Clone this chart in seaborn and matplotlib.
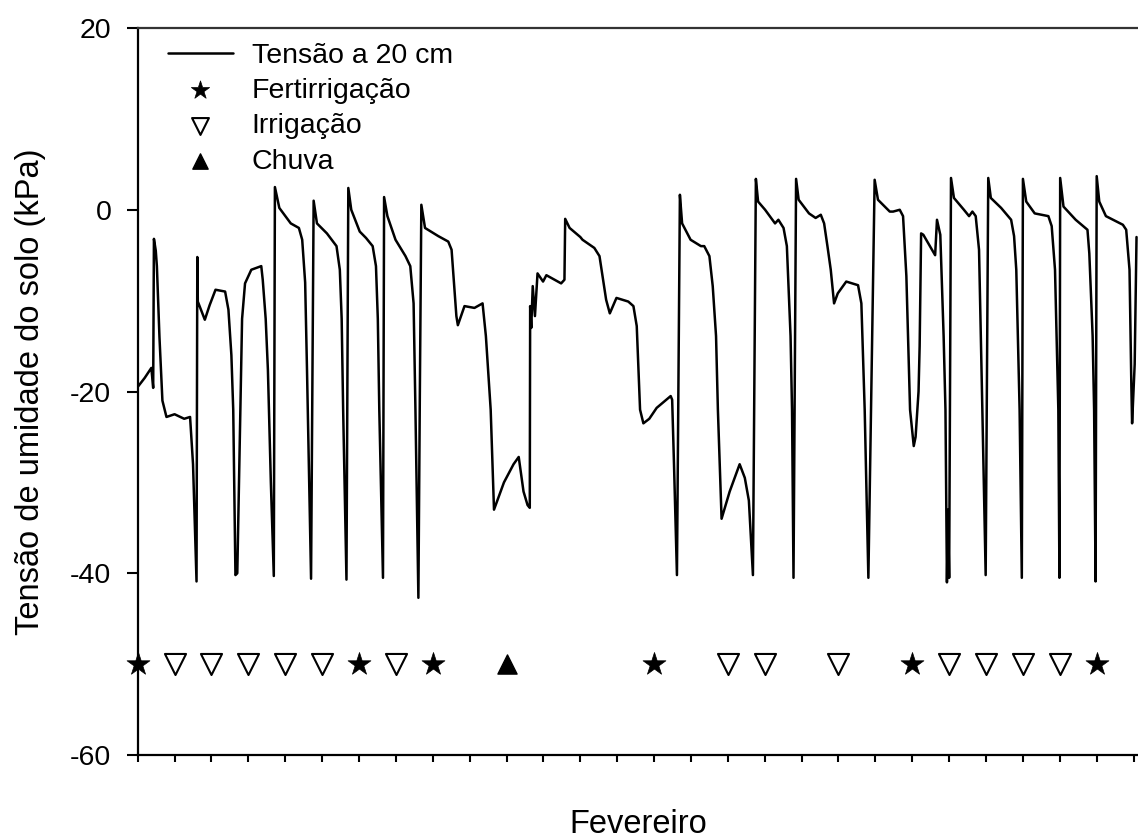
import numpy as np
import pandas as pd
import seaborn as sns
import matplotlib
matplotlib.use("Agg")
import matplotlib.pyplot as plt

# dia de fevereiro (0 = inicio do mes) e tensao a 20 cm (kPa)
dia = [0.00, 0.19, 0.37, 0.42, 0.44, 0.49, 0.52, 0.59, 0.67, 0.78, 1.00, 1.26, 1.42, 1.50, 1.595,
       1.616, 1.63, 1.82, 1.95, 2.11, 2.37, 2.46, 2.54, 2.59, 2.65,
       2.70, 2.77, 2.83, 2.91, 3.08, 3.35, 3.39, 3.47, 3.53, 3.61, 3.69,
       3.72, 3.84, 4.15, 4.37, 4.46, 4.54, 4.59, 4.65, 4.70,
       4.77, 4.86, 5.13, 5.39, 5.48, 5.53, 5.57, 5.66,
       5.71, 5.79, 6.02, 6.19, 6.37, 6.46, 6.51, 6.55, 6.65,
       6.68, 6.77, 6.99, 7.26, 7.39, 7.48, 7.53, 7.61,
       7.65, 7.69, 7.79, 8.15, 8.42, 8.51, 8.64, 8.68, 8.86, 9.13, 9.35, 9.44, 9.57,
       9.66, 9.93, 10.19, 10.33, 10.46, 10.57, 10.63, 10.64, 10.67, 10.71, 10.77, 10.84,
       10.99, 11.08, 11.48, 11.57, 11.59, 11.71, 12.00,
       12.06, 12.38, 12.52, 12.70, 12.80, 12.98, 13.30, 13.44, 13.53, 13.62, 13.71,
       13.87, 14.07, 14.45, 14.49, 14.54, 14.62,
       14.70, 14.76, 14.99, 15.27, 15.36, 15.50, 15.59, 15.68, 15.73, 15.83, 16.05,
       16.32, 16.46, 16.57, 16.68,
       16.76, 16.82, 17.01, 17.28, 17.37, 17.51, 17.60, 17.70, 17.74, 17.78,
       17.85, 17.92, 18.20, 18.38, 18.52, 18.61, 18.70, 18.79, 18.88, 18.98, 19.21,
       19.53, 19.62, 19.71, 19.81,
       19.98, 20.07, 20.39, 20.48, 20.66, 20.75, 20.84, 20.94, 21.04, 21.09, 21.17,
       21.20, 21.24, 21.30, 21.62, 21.67, 21.76, 21.85, 21.90, 21.94, 21.97, 22.00,
       22.05, 22.13, 22.40, 22.54, 22.63, 22.72, 22.81, 22.90, 22.99,
       23.06, 23.13, 23.41, 23.68, 23.76, 23.82, 23.91, 23.97,
       24.00, 24.09, 24.32, 24.69, 24.78, 24.87, 24.96, 24.99,
       25.01, 25.10, 25.43, 25.75, 25.80, 25.89, 25.93, 25.97,
       26.00, 26.07, 26.25, 26.71, 26.80, 26.89, 26.94, 26.96, 27.03, 27.08]

tensao = [-19.5, -18.5, -17.4, -19.6, -3.2, -4.5, -6.2, -14.0, -21.0, -22.8, -22.5, -23.0, -22.8, -28.0, -40.9,
          -5.2, -10.1, -12.1, -10.5, -8.8, -9.0, -11.0, -16.0, -22.0, -40.2,
          -40.0, -25.0, -12.0, -8.1, -6.6, -6.2, -7.7, -12.0, -17.6, -30.0, -40.3,
          2.5, 0.2, -1.5, -2.0, -3.3, -8.0, -17.6, -30.0, -40.6,
          1.0, -1.5, -2.6, -4.0, -6.6, -12.0, -22.0, -40.7,
          2.4, 0.0, -2.4, -3.1, -4.0, -6.2, -12.0, -22.0, -40.5,
          1.4, -0.7, -3.3, -5.1, -6.2, -10.3, -22.0, -42.7,
          -20.0, 0.55, -2.0, -2.9, -3.5, -4.4, -11.7, -12.7, -10.6, -10.8, -10.3, -13.9, -22.0,
          -33.0, -30.0, -28.0, -27.2, -31.0, -32.5, -32.8, -10.6, -13.0, -8.4, -11.7, -7.0,
          -7.9, -7.2, -8.1, -7.7, -1.0, -2.0, -3.0,
          -3.3, -4.2, -5.1, -9.9, -11.4, -9.7, -10.1, -10.6, -12.8, -22.0, -23.5,
          -23.0, -21.8, -20.5, -20.9, -28.0, -40.2,
          1.65, -1.5, -3.3, -4.0, -4.0, -5.1, -8.4, -13.9, -22.0, -34.0, -31.0,
          -28.0, -29.5, -32.0, -40.2,
          3.4, 0.9, 0.0, -1.5, -1.1, -2.0, -4.0, -13.9, -22.0, -40.5,
          3.4, 1.1, -0.4, -0.9, -0.55, -1.5, -4.0, -6.6, -10.3, -9.2, -7.9,
          -8.3, -10.3, -22.0, -40.5,
          3.3, 1.1, -0.2, -0.2, 0.0, -0.7, -7.3, -22.0, -26.0, -25.0, -20.0,
          -15.0, -2.6, -2.75, -5.0, -1.1, -2.75, -13.9, -22.0, -41.0, -33.0, -40.5,
          3.5, 1.3, 0.0, -0.7, -0.2, -0.7, -4.4, -22.0, -40.2,
          3.5, 1.3, 0.2, -1.1, -2.9, -6.6, -22.0, -40.5,
          3.4, 0.9, -0.4, -0.7, -1.8, -6.6, -22.0, -40.5,
          3.5, 0.35, -1.1, -2.2, -4.8, -13.9, -22.0, -40.9,
          3.7, 0.9, -0.7, -1.65, -2.2, -6.6, -19.4, -23.5, -17.0, -3.0]

# eventos de manejo
dias_fertirrigacao = [0, 6, 8, 14, 21, 26]
dias_irrigacao = [1, 2, 3, 4, 5, 7, 16, 17, 19, 22, 23, 24, 25]
dias_chuva = [10]
nivel_eventos = -50

df = pd.DataFrame({"dia": dia, "tensao": tensao})

sns.set_style("ticks")
plt.rcParams["font.family"] = ["Liberation Sans", "DejaVu Sans"]
plt.rcParams["axes.unicode_minus"] = False
plt.rcParams["text.color"] = "black"
plt.rcParams["axes.labelcolor"] = "black"

fig = plt.figure(figsize=(11.38, 8.39), dpi=100)
ax = fig.add_axes([0.121, 0.1001, 0.879, 0.8665])

sns.lineplot(data=df, x="dia", y="tensao", color="black", linewidth=1.8,
             label="Tensão a 20 cm", ax=ax, sort=False, estimator=None)

sns.scatterplot(x=dias_fertirrigacao, y=[nivel_eventos] * len(dias_fertirrigacao),
                marker="*", s=300, color="black", edgecolor="black", linewidth=0.5,
                label="Fertirrigação", ax=ax, zorder=3, clip_on=False)
sns.scatterplot(x=dias_irrigacao, y=[nivel_eventos] * len(dias_irrigacao),
                marker="v", s=230, facecolor="white", edgecolor="black", linewidth=1.5,
                label="Irrigação", ax=ax, zorder=3, clip_on=False)
sns.scatterplot(x=dias_chuva, y=[nivel_eventos] * len(dias_chuva),
                marker="^", s=190, color="black", edgecolor="black", linewidth=1.0,
                label="Chuva", ax=ax, zorder=3, clip_on=False)

ax.set_xlim(0, 27.12)
ax.set_ylim(-60, 20)
ax.set_yticks([-60, -40, -20, 0, 20])
ax.set_xticks(range(0, 28))
ax.set_xticklabels([])

ax.tick_params(axis="y", direction="out", length=8, width=1.5, pad=11,
               labelsize=20.5, colors="black")
ax.tick_params(axis="x", direction="out", length=5, width=1.5, colors="black")

for side in ["left", "bottom", "top"]:
    ax.spines[side].set_linewidth(1.6)
    ax.spines[side].set_color("black")
ax.spines["top"].set_color("#333333")
ax.spines["right"].set_visible(False)

ax.set_xlabel("Fevereiro", fontsize=23.5)
ax.set_ylabel("Tensão de umidade do solo (kPa)", fontsize=23.5)
ax.xaxis.set_label_coords(0.5, -0.074)
ax.yaxis.set_label_coords(-0.092, 0.5)

leg = ax.legend(loc="upper left", bbox_to_anchor=(0.03, 0.98), frameon=False,
                fontsize=20.5, handlelength=2.3, handletextpad=0.65, labelspacing=0.33,
                borderaxespad=0, borderpad=0, markerscale=0.8)
for t in leg.get_texts():
    t.set_color("black")

fig.savefig("out.png", dpi=100)
